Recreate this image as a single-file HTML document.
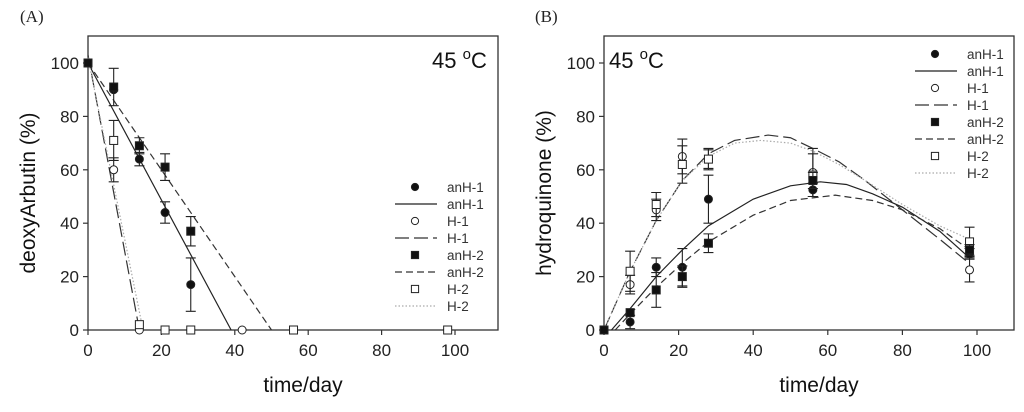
<!DOCTYPE html>
<html><head><meta charset="utf-8"><style>
body{margin:0;background:#fff;width:1024px;height:412px;overflow:hidden}
svg{display:block;font-family:"Liberation Sans",Arial,sans-serif}
</style></head><body>
<svg id="fig" width="1024" height="412" viewBox="0 0 1024 412"></svg>
<script>
// ---- Panel A data ----
const daysA = [0, 7, 14, 21, 28, 42, 56, 98];
const aAnH1 = [100, 90, 64, 44, 17, null, null, null];
const aAnH1Err = [0, 0, 2.5, 4, 10, 0, 0, 0];
const aH1 = [100, 60, 0, 0, 0, 0, 0, 0];
const aH1Err = [0, 4.5, 0, 0, 0, 0, 0, 0];
const aAnH2 = [100, 91, 69, 61, 37, null, null, null];
const aAnH2Err = [0, 7, 3, 5, 5.5, 0, 0, 0];
const aH2 = [100, 71, 2, 0, 0, null, 0, 0];
const aH2Err = [0, 7.5, 0, 0, 0, 0, 0, 0];
const aFitAnH1X = [0, 39], aFitAnH1Y = [100, 0];
const aFitAnH2X = [0, 50], aFitAnH2Y = [100, 0];
const aFitH1X = [0, 14], aFitH1Y = [103, 0];
const aFitH2X = [0, 15], aFitH2Y = [102, 0];
// ---- Panel B data ----
const daysB = [0, 7, 14, 21, 28, 56, 98];
const bAnH1 = [0, 3, 23.5, 23.5, 49, 52.5, 28.5];
const bAnH1Err = [0, 2.5, 3.5, 7, 9, 2.5, 2];
const bH1 = [0, 17, 45, 65, 64, 59, 22.5];
const bH1Err = [0, 3.5, 4, 6.5, 3.5, 9, 4.5];
const bAnH2 = [0, 6.5, 15, 20, 32.5, 56, 30];
const bAnH2Err = [0, 0, 6.5, 4, 3.5, 3, 2];
const bH2 = [0, 22, 47, 62, 64, 58, 33];
const bH2Err = [0, 7.5, 4.5, 7, 4, 8, 5.5];
const bFitAnH1X = [2, 7, 14, 21, 28, 40, 50, 58, 65, 72, 80, 90, 98];
const bFitAnH1Y = [0, 8, 20, 30, 39, 49, 54, 55.5, 54.5, 51, 46, 37, 27];
const bFitAnH2X = [3, 7, 14, 21, 28, 40, 50, 62, 72, 80, 90, 98];
const bFitAnH2Y = [0, 6, 16, 25, 33, 43, 48.5, 50.5, 48.5, 45, 38, 30];
const bFitH1X = [0, 7, 14, 21, 28, 35, 44, 50, 56, 63, 70, 80, 90, 97];
const bFitH1Y = [0, 22, 41, 56, 66, 71, 73, 72, 68, 63, 56, 45, 34, 26];
const bFitH2X = [0, 7, 14, 21, 28, 35, 42, 50, 56, 63, 70, 80, 90, 98];
const bFitH2Y = [0, 22, 41, 56, 65, 70, 71, 70, 67, 62, 56, 47, 39, 34];
const xTicks = [0, 20, 40, 60, 80, 100];
const yTicks = [0, 20, 40, 60, 80, 100];
const legendLabels = ["anH-1", "anH-1", "H-1", "H-1", "anH-2", "anH-2", "H-2", "H-2"];

const NS = "http://www.w3.org/2000/svg";
const svg = document.getElementById("fig");
function mk(tag, attrs, parent, text) {
  const e = document.createElementNS(NS, tag);
  for (const k in attrs) e.setAttribute(k, attrs[k]);
  if (text !== undefined) e.textContent = text;
  (parent || svg).appendChild(e);
  return e;
}

function panel(opt) {
  const g = mk("g", {});
  
  
  const L = opt.left, R = opt.right, T = 36, B = 330;
  const X = v => opt.x0 + v * opt.kx;
  const Y = v => 330 - v * 2.67;
  const frame = mk("rect", {x: L, y: T, width: R - L, height: B - T, fill: "none", stroke: "#333", "stroke-width": 1.3}, g);
  
  
  xTicks.forEach(t => {
    mk("line", {x1: X(t), x2: X(t), y1: B, y2: B + 5, stroke: "#333", "stroke-width": 1.2}, g);
    const tl = mk("text", {x: X(t), y: B + 26, "text-anchor": "middle", "font-size": 17, fill: "#222"}, g, t);
    
    
  });
  yTicks.forEach(t => {
    mk("line", {x1: L - 5, x2: L, y1: Y(t), y2: Y(t), stroke: "#333", "stroke-width": 1.2}, g);
    const tl = mk("text", {x: L - 9, y: Y(t) + 6, "text-anchor": "end", "font-size": 17, fill: "#222"}, g, t);
    
    
  });
  const xt = mk("text", {x: (L + R) / 2 + 10, y: 392, "text-anchor": "middle", "font-size": 21, fill: "#111"}, g, "time/day");
  
  
  const yt = mk("text", {x: 0, y: 0, "text-anchor": "middle", "font-size": 21, fill: "#111", transform: `translate(${L - 53},${(T + B) / 2 + 10}) rotate(-90)`}, g, opt.ytitle);
  
  
  const pl = mk("text", {x: opt.labelX, y: 22, "font-size": 17, "font-family": "Liberation Serif,serif", fill: "#222"}, g, opt.letter);
  
  
  const tmp = mk("text", {x: opt.tempX, y: 68, "font-size": 22, fill: "#111"}, g);
  
  
  mk("tspan", {}, tmp, "45 ");
  mk("tspan", {dy: -9, "font-size": 15}, tmp, "o");
  mk("tspan", {dy: 9}, tmp, "C");

  const styles = {
    anH1: {dash: "", sw: 1.2, col: "#222"},
    H1: {dash: "14,5", sw: 1.2, col: "#333"},
    anH2: {dash: "7,4", sw: 1.2, col: "#333"},
    H2: {dash: "1.5,2", sw: 1.2, col: "#aaa"}
  };
  // fit lines
  opt.fits.forEach(f => {
    const s = styles[f.k];
    const pts = f.xs.map((x, i) => X(x) + "," + Y(f.ys[i])).join(" ");
    const pl2 = mk("polyline", {points: pts, fill: "none", stroke: s.col, "stroke-width": s.sw, "stroke-dasharray": s.dash}, g);
    
    
  });
  // points
  opt.series.forEach(sr => {
    sr.vals.forEach((v, i) => {
      if (v === null) return;
      const cx = X(opt.days[i]), cy = Y(v), e = sr.err[i];
      if (e > 0) {
        const eb = mk("path", {d: `M${cx},${Y(v - e)}V${Y(v + e)}M${cx - 5},${Y(v - e)}h10M${cx - 5},${Y(v + e)}h10`, stroke: "#222", "stroke-width": 1.1, fill: "none"}, g);
        
        
      }
      let m;
      if (sr.shape === "c") m = mk("circle", {cx, cy, r: 4, fill: sr.fill, stroke: "#222", "stroke-width": 1}, g);
      else m = mk("rect", {x: cx - 4, y: cy - 4, width: 8, height: 8, fill: sr.fill, stroke: "#222", "stroke-width": 1}, g);
      
      
    });
  });
  // legend
  const lg = mk("g", {}, g);
  
  
  const keys = ["anH1", "anH1", "H1", "H1", "anH2", "anH2", "H2", "H2"];
  legendLabels.forEach((lab, i) => {
    const y = opt.legY + i * 17;
    const k = keys[i];
    if (i % 2 === 0) {
      const filled = k.startsWith("an") ? "#111" : "#fff";
      let m;
      if (k.endsWith("1")) m = mk("circle", {cx: opt.legX, cy: y, r: 3.6, fill: filled, stroke: "#222"}, lg);
      else m = mk("rect", {x: opt.legX - 3.6, y: y - 3.6, width: 7.2, height: 7.2, fill: filled, stroke: "#222"}, lg);
      
      
    } else {
      const s = styles[k];
      const ln = mk("line", {x1: opt.legX - 20, x2: opt.legX + 22, y1: y, y2: y, stroke: s.col, "stroke-width": 1.2, "stroke-dasharray": s.dash}, lg);
      
      
    }
    const t = mk("text", {x: opt.legX + 32, y: y + 5, "font-size": 13.5, fill: "#333"}, lg, lab);
    
    
  });
}

panel({name: "panel-a", letter: "(A)", labelX: 20, left: 88, right: 498, x0: 88, kx: 3.67, ytitle: "deoxyArbutin (%)",
  tempX: 432, legX: 415, legY: 187, days: daysA,
  fits: [{k: "anH1", xs: aFitAnH1X, ys: aFitAnH1Y}, {k: "anH2", xs: aFitAnH2X, ys: aFitAnH2Y}, {k: "H1", xs: aFitH1X, ys: aFitH1Y}, {k: "H2", xs: aFitH2X, ys: aFitH2Y}],
  series: [{k: "H1", vals: aH1, err: aH1Err, shape: "c", fill: "#fff"}, {k: "H2", vals: aH2, err: aH2Err, shape: "s", fill: "#fff"},
    {k: "anH1", vals: aAnH1, err: aAnH1Err, shape: "c", fill: "#111"}, {k: "anH2", vals: aAnH2, err: aAnH2Err, shape: "s", fill: "#111"}]});

panel({name: "panel-b", letter: "(B)", labelX: 535, left: 604, right: 1014, x0: 604, kx: 3.73, ytitle: "hydroquinone (%)",
  tempX: 609, legX: 935, legY: 54, days: daysB,
  fits: [{k: "anH1", xs: bFitAnH1X, ys: bFitAnH1Y}, {k: "anH2", xs: bFitAnH2X, ys: bFitAnH2Y}, {k: "H1", xs: bFitH1X, ys: bFitH1Y}, {k: "H2", xs: bFitH2X, ys: bFitH2Y}],
  series: [{k: "H1", vals: bH1, err: bH1Err, shape: "c", fill: "#fff"}, {k: "H2", vals: bH2, err: bH2Err, shape: "s", fill: "#fff"},
    {k: "anH1", vals: bAnH1, err: bAnH1Err, shape: "c", fill: "#111"}, {k: "anH2", vals: bAnH2, err: bAnH2Err, shape: "s", fill: "#111"}]});
</script>
</body></html>
